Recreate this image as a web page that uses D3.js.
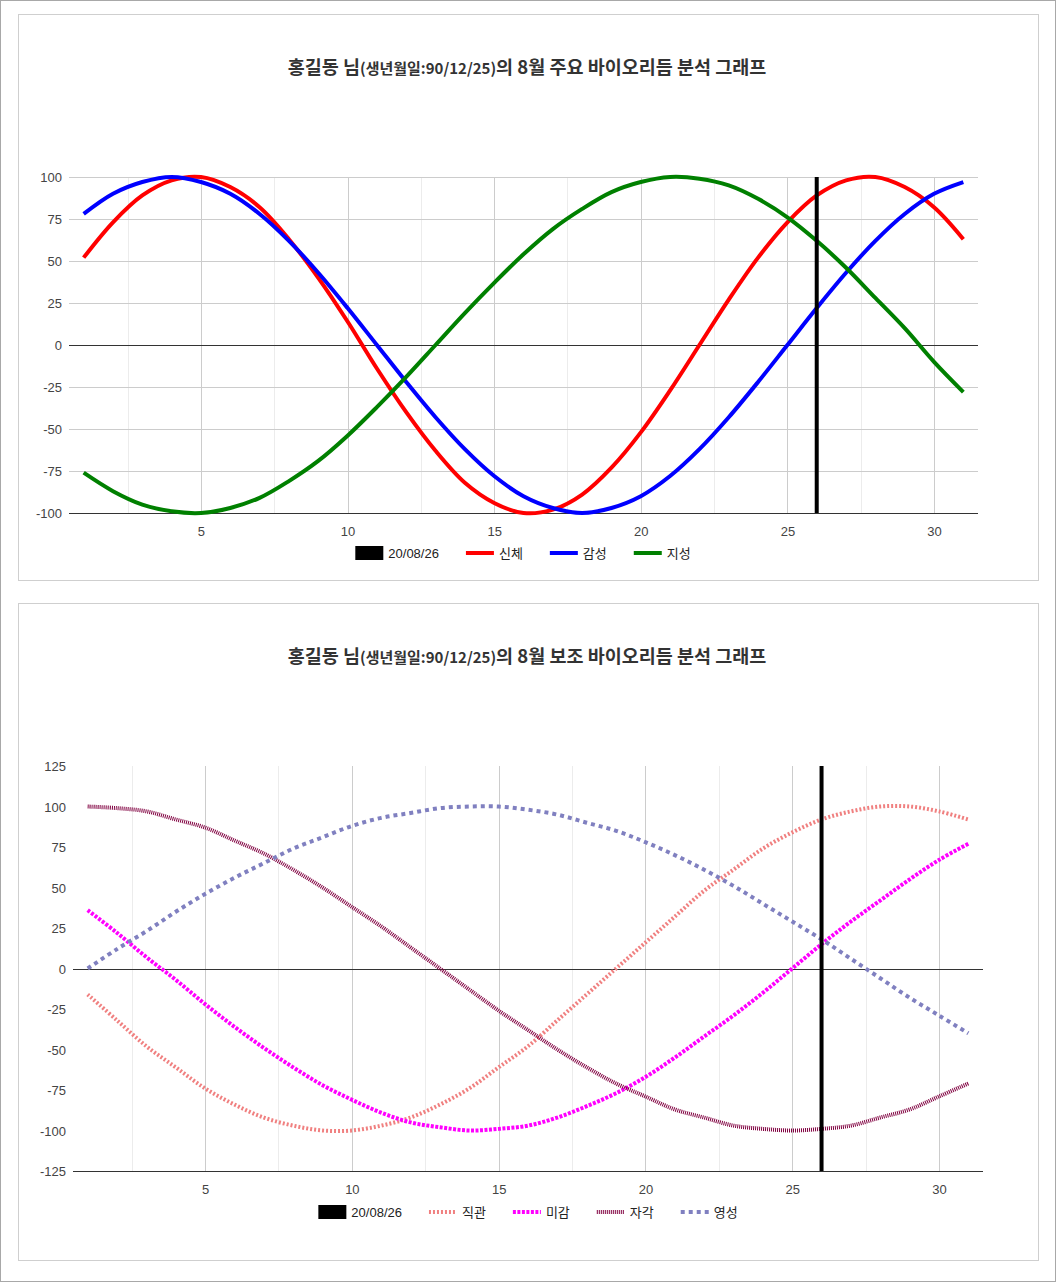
<!DOCTYPE html>
<html><head><meta charset="utf-8">
<script src="https://cdn.jsdelivr.net/npm/d3@7"></script>
<style>
html,body{margin:0;padding:0;background:#fff;}
text{font-family:Arial,"Liberation Sans","Noto Sans CJK KR",sans-serif;}
</style></head><body>
<svg id="c" width="1056" height="1282"></svg>
<script>
const days = [1,2,3,4,5,6,7,8,9,10,11,12,13,14,15,16,17,18,19,20,21,22,23,24,25,26,27,28,29,30,31];
const physical     = [52,73,89,98,100,94,82,63,40,14,-14,-40,-63,-82,-94,-100,-98,-89,-73,-52,-27,0,27,52,73,89,98,100,94,82,63];
const emotional    = [78,90,97,100,97,90,78,62,43,22,0,-22,-43,-62,-78,-90,-97,-100,-97,-90,-78,-62,-43,-22,0,22,43,62,78,90,97];
const intellectual = [-76,-87,-95,-99,-100,-97,-91,-81,-69,-54,-37,-19,0,19,37,54,69,81,91,97,100,99,95,87,76,62,46,28,10,-10,-28];
const intuition    = [-16,-32,-48,-61,-74,-84,-92,-97,-100,-100,-97,-92,-84,-74,-61,-48,-32,-16,0,16,32,48,61,74,84,92,97,100,100,97,92];
const aesthetic    = [36,22,7,-7,-22,-36,-49,-61,-72,-81,-89,-95,-98,-100,-99,-97,-92,-85,-77,-67,-55,-42,-29,-15,0,15,29,42,55,67,77];
const awareness    = [100,99,97,92,87,79,71,61,50,38,26,13,0,-13,-26,-38,-50,-61,-71,-79,-87,-92,-97,-99,-100,-99,-97,-92,-87,-79,-71];
const spiritual    = [0,12,23,35,46,56,65,74,81,88,93,96,99,100,100,98,95,90,85,78,70,61,51,40,29,18,6,-6,-18,-29,-40];
const markerDay = 26;
const markerLabel = "20/08/26";
const mainNames = ["신체","감성","지성"];
const subNames = ["직관","미감","자각","영성"];
const xTicks = [5,10,15,20,25,30];
const minorTicks = [2.5,7.5,12.5,17.5,22.5,27.5];
const yTicks1 = [-100,-75,-50,-25,0,25,50,75,100];
const yTicks2 = [-125,-100,-75,-50,-25,0,25,50,75,100,125];
const title1 = ["홍길동 님","(생년월일:90/12/25)","의 8월 주요 바이오리듬 분석 그래프"];
const title2 = ["홍길동 님","(생년월일:90/12/25)","의 8월 보조 바이오리듬 분석 그래프"];

const svg = d3.select("#c");
svg.append("rect").attr("x",0.5).attr("y",0.5).attr("width",1055).attr("height",1281)
  .attr("fill","#fff").attr("stroke","#a8a8a8");

function drawChart(cfg){
  const g = svg.append("g");
  g.append("rect").attr("x",cfg.box[0]+0.5).attr("y",cfg.box[1]+0.5).attr("width",cfg.box[2]).attr("height",cfg.box[3])
    .attr("fill","#fff").attr("stroke","#cfcfcf");
  const t = g.append("text").attr("x",527).attr("y",cfg.titleY).attr("text-anchor","middle")
    .attr("font-weight","bold").attr("fill","#333")
    .style("font-family",'"Noto Sans CJK KR",sans-serif');
  t.append("tspan").attr("font-size",18.5).text(cfg.title[0]);
  t.append("tspan").attr("font-size",15).text(cfg.title[1]);
  t.append("tspan").attr("font-size",18.5).text(cfg.title[2]);

  const x = d3.scaleLinear().domain([0.5,31.5]).range([cfg.left,cfg.right]);
  const y = d3.scaleLinear().domain(cfg.yDomain).range([cfg.bottom,cfg.top]);

  g.selectAll(".minor").data(minorTicks).enter().append("line")
    .attr("x1",d=>Math.round(x(d))+0.5).attr("x2",d=>Math.round(x(d))+0.5)
    .attr("y1",cfg.top).attr("y2",cfg.bottom).attr("stroke","#ececec");
  g.selectAll(".major").data(xTicks).enter().append("line")
    .attr("x1",d=>Math.round(x(d))+0.5).attr("x2",d=>Math.round(x(d))+0.5)
    .attr("y1",cfg.top).attr("y2",cfg.bottom).attr("stroke","#cccccc");
  if(cfg.hGrid){
    g.selectAll(".hg").data(cfg.yTicks.filter(v=>v!==0 && v!==cfg.yDomain[0])).enter().append("line")
      .attr("x1",cfg.left).attr("x2",cfg.right)
      .attr("y1",d=>Math.round(y(d))+0.5).attr("y2",d=>Math.round(y(d))+0.5).attr("stroke","#cccccc");
  }
  [0,cfg.yDomain[0]].forEach(v=>{
    g.append("line").attr("x1",cfg.left).attr("x2",cfg.right)
      .attr("y1",Math.round(y(v))+0.5).attr("y2",Math.round(y(v))+0.5).attr("stroke","#333");
  });

  const xa = g.append("g").attr("transform",`translate(0,${cfg.bottom})`)
    .call(d3.axisBottom(x).tickValues(xTicks).tickSize(0).tickPadding(14).tickFormat(d=>String(d)));
  xa.select(".domain").remove();
  xa.selectAll("text").attr("font-size",13).attr("fill","#444").style("font-family","Arial,'Liberation Sans',sans-serif");
  const ya = g.append("g").attr("transform",`translate(${cfg.left},0)`)
    .call(d3.axisLeft(y).tickValues(cfg.yTicks).tickSize(0).tickPadding(cfg.yPad).tickFormat(d=>String(d)));
  ya.select(".domain").remove();
  ya.selectAll("text").attr("font-size",13).attr("fill","#444").attr("dy","0.35em").style("font-family","Arial,'Liberation Sans',sans-serif");

  const line = d3.line().x((d,i)=>x(days[i])).y(d=>y(d)).curve(cfg.curve);
  cfg.series.forEach(s=>{
    g.append("path").datum(s.values).attr("d",line).attr("fill","none")
      .attr("stroke",s.color).attr("stroke-width",s.width)
      .attr("stroke-dasharray",s.dash||null).attr("stroke-linejoin","round");
  });
  g.append("line").attr("x1",x(markerDay)).attr("x2",x(markerDay))
    .attr("y1",cfg.top).attr("y2",cfg.bottom).attr("stroke","#000").attr("stroke-width",4);

  const items = [{name:markerLabel,marker:true}].concat(cfg.series);
  const lg = g.append("g");
  let cx = 0;
  const gap = 27;
  items.forEach(it=>{
    const gi = lg.append("g").attr("transform",`translate(${cx},0)`);
    if(it.marker){
      gi.append("rect").attr("x",0).attr("y",-7).attr("width",28).attr("height",14).attr("fill","#000");
    } else {
      gi.append("line").attr("x1",0).attr("x2",28).attr("y1",0).attr("y2",0)
        .attr("stroke",it.color).attr("stroke-width",it.width).attr("stroke-dasharray",it.dash||null);
    }
    const tx = gi.append("text").attr("x",33).attr("y",0).attr("dy","0.35em")
      .attr("font-size",13).attr("fill","#222").text(it.name);
    const w = tx.node().getComputedTextLength();
    cx += 33 + w + gap;
  });
  const totalW = cx - gap;
  lg.attr("transform",`translate(${cfg.legendCx - totalW/2},${cfg.legendY})`);
}

drawChart({
  box:[18,14,1020,566], title:title1, titleY:74,
  left:69, right:978, top:177, bottom:513, yDomain:[-100,100], yTicks:yTicks1, yPad:7, hGrid:true,
  curve:d3.curveCatmullRom, legendCx:523, legendY:553,
  series:[
    {name:mainNames[0], values:physical, color:"#ff0000", width:4},
    {name:mainNames[1], values:emotional, color:"#0000ff", width:4},
    {name:mainNames[2], values:intellectual, color:"#008000", width:4}
  ]
});
drawChart({
  box:[18,603,1020,657], title:title2, titleY:663,
  left:73, right:983, top:766, bottom:1171, yDomain:[-125,125], yTicks:yTicks2, yPad:7, hGrid:false,
  curve:d3.curveCatmullRom, legendCx:528, legendY:1212,
  series:[
    {name:subNames[0], values:intuition, color:"#f08080", width:4, dash:"2,2"},
    {name:subNames[1], values:aesthetic, color:"#ff00ff", width:4, dash:"3,1.5"},
    {name:subNames[2], values:awareness, color:"#800040", width:4, dash:"1,1"},
    {name:subNames[3], values:spiritual, color:"#8080c0", width:4, dash:"4,4"}
  ]
});
</script>
</body></html>
